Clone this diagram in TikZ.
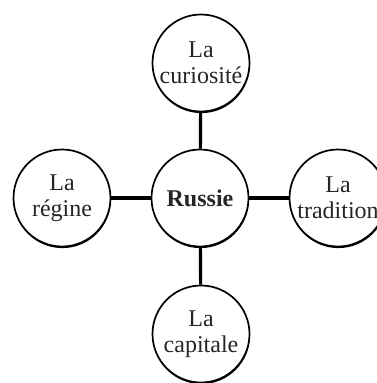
\documentclass[tikz,border=0pt]{standalone}
\usepackage{fontspec}
\setmainfont{Liberation Serif}
\usetikzlibrary{shadows}
\begin{document}
\begin{tikzpicture}[x=1pt,y=-1pt,
  bubble/.style={circle,draw=black,line width=1.7pt,fill=white,minimum size=97pt,inner sep=0pt,
    align=center,font=\fontsize{24}{26.5}\selectfont,text=black!85,
    drop shadow={shadow xshift=0.4pt,shadow yshift=-1.6pt,fill=black,opacity=1}},
  link/.style={line width=3.2pt,draw=black}]
\useasboundingbox (0,0) rectangle (377,383);
\node[bubble] (c) at (200,198) {\textbf{Russie}};
\node[bubble] (t) at (201,63) {La\\curiosité};
\node[bubble] (l) at (62,198) {La\\régine};
\node[bubble] (r) at (338,198) {La\\tradition};
\node[bubble] (b) at (201,334) {La\\capitale};
\draw[link] (t) -- (c);
\draw[link] (l) -- (c);
\draw[link] (c) -- (r);
\draw[link] (c) -- (b);
\end{tikzpicture}
\end{document}
